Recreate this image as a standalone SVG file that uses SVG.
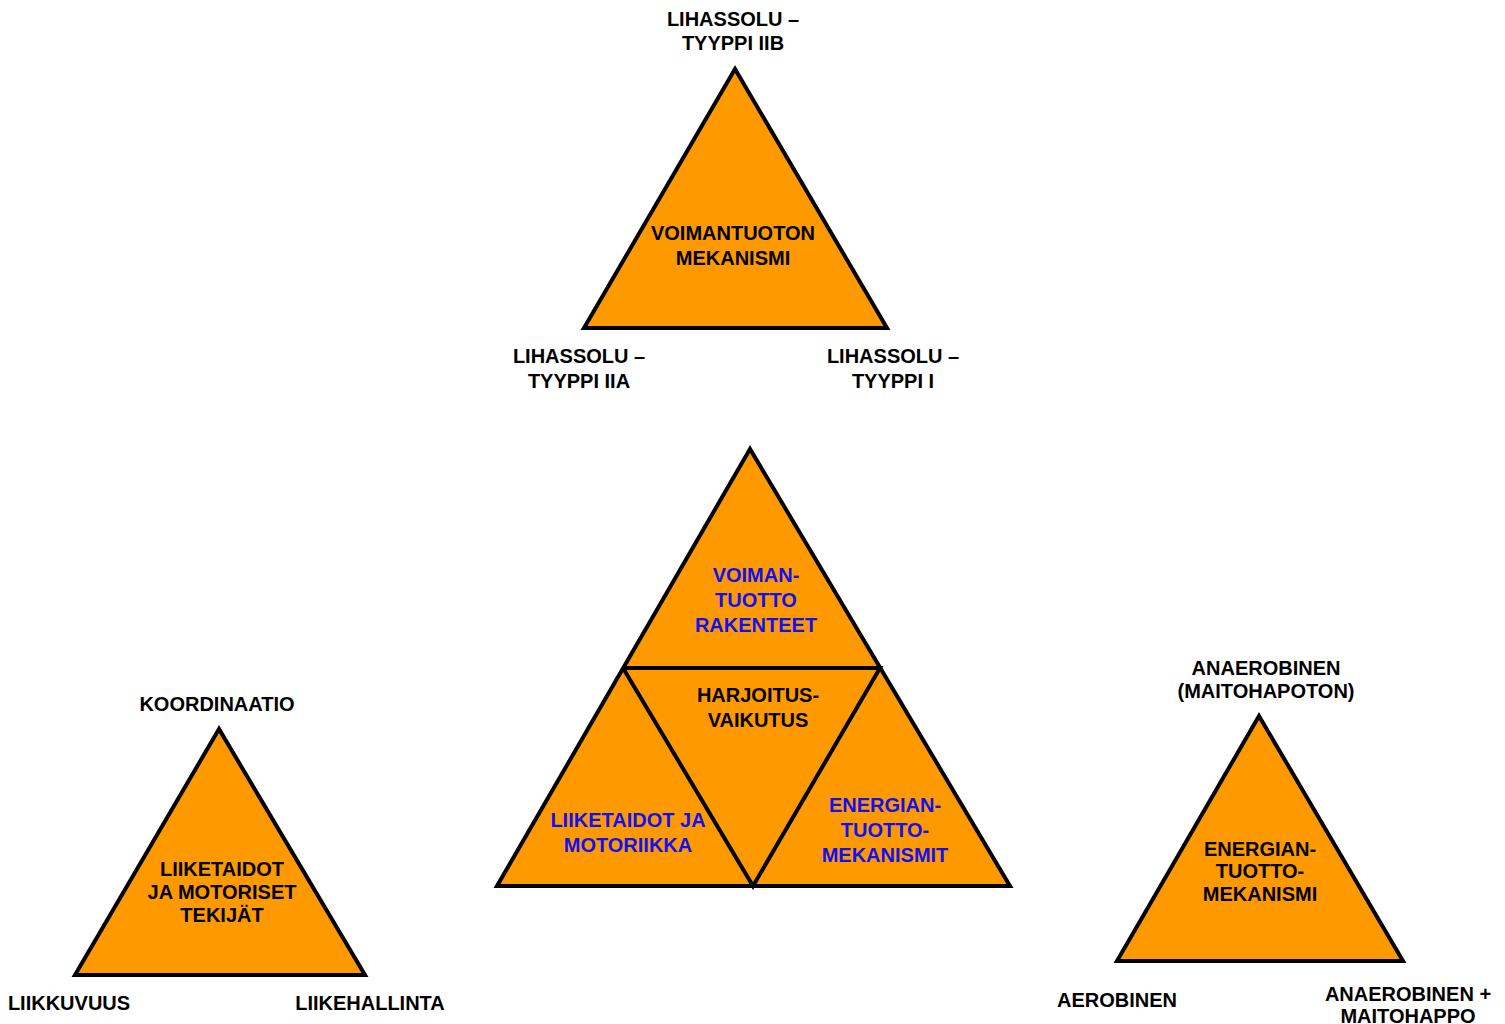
<svg xmlns="http://www.w3.org/2000/svg" width="1505" height="1024" viewBox="0 0 1505 1024">
<style>
.tri{fill:#FF9900;stroke:#000;stroke-width:4;stroke-linejoin:miter}
.ln{fill:none;stroke:#000;stroke-width:4}
text{font-family:"Liberation Sans",Arial,sans-serif;font-weight:bold;font-size:20px;text-anchor:middle;fill:#000}
.b{fill:#1010F0}
</style>
<rect width="1505" height="1024" fill="#fff"/>
<g id="top-triangle">
<polygon class="tri" points="735,69 584,328 887,328"/>
<text x="733" y="240">VOIMANTUOTON</text>
<text x="733" y="265">MEKANISMI</text>
<text x="733" y="26">LIHASSOLU –</text>
<text x="733" y="50">TYYPPI IIB</text>
<text x="579" y="363">LIHASSOLU –</text>
<text x="579" y="388">TYYPPI IIA</text>
<text x="893" y="363">LIHASSOLU –</text>
<text x="893" y="388">TYYPPI I</text>
</g>
<g id="center-triangle">
<polygon class="tri" points="750,449 497,886 1010,886"/>
<polyline class="ln" points="623,668 880,668 753,886 623,668"/>
<text class="b" x="756" y="582">VOIMAN-</text>
<text class="b" x="756" y="607">TUOTTO</text>
<text class="b" x="756" y="632">RAKENTEET</text>
<text x="758" y="702">HARJOITUS-</text>
<text x="758" y="727">VAIKUTUS</text>
<text class="b" x="628" y="827">LIIKETAIDOT JA</text>
<text class="b" x="628" y="852">MOTORIIKKA</text>
<text class="b" x="885" y="812">ENERGIAN-</text>
<text class="b" x="885" y="837">TUOTTO-</text>
<text class="b" x="885" y="862">MEKANISMIT</text>
</g>
<g id="left-triangle">
<polygon class="tri" points="219,729 75,975 365,975"/>
<text x="217" y="711">KOORDINAATIO</text>
<text x="222" y="876">LIIKETAIDOT</text>
<text x="222" y="899">JA MOTORISET</text>
<text x="222" y="922">TEKIJÄT</text>
<text x="69" y="1010">LIIKKUVUUS</text>
<text x="370" y="1010">LIIKEHALLINTA</text>
</g>
<g id="right-triangle">
<polygon class="tri" points="1259,716 1117,961 1403,961"/>
<text x="1266" y="675">ANAEROBINEN</text>
<text x="1266" y="698">(MAITOHAPOTON)</text>
<text x="1260" y="856">ENERGIAN-</text>
<text x="1260" y="878">TUOTTO-</text>
<text x="1260" y="901">MEKANISMI</text>
<text x="1117" y="1007">AEROBINEN</text>
<text x="1408" y="1001">ANAEROBINEN +</text>
<text x="1408" y="1023">MAITOHAPPO</text>
</g>
</svg>
